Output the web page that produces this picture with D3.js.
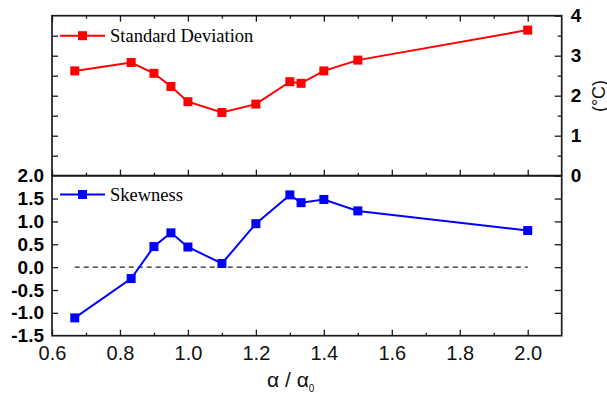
<!DOCTYPE html>
<html><head><meta charset="utf-8">
<script src="https://cdn.jsdelivr.net/npm/d3@7"></script>
<style>
body{margin:0;background:#fff;}
svg{display:block;}
</style></head>
<body>
<svg id="chart" width="607" height="395"></svg>
<script>
// ---- data ----
const alphaRatio = [0.667, 0.833, 0.9, 0.95, 1.0, 1.1, 1.2, 1.3, 1.333, 1.4, 1.5, 2.0];
const stdDev     = [2.62, 2.83, 2.56, 2.23, 1.85, 1.58, 1.79, 2.35, 2.31, 2.62, 2.89, 3.64];
const skewness   = [-1.11, -0.25, 0.45, 0.75, 0.44, 0.08, 0.95, 1.58, 1.41, 1.48, 1.23, 0.80];
const xMajorTicks = [0.6, 0.8, 1.0, 1.2, 1.4, 1.6, 1.8, 2.0];
const xMinorTicks = [0.7, 0.9, 1.1, 1.3, 1.5, 1.7, 1.9];
const sdTicks     = [0, 1, 2, 3, 4];
const sdMinor     = [0.5, 1.5, 2.5, 3.5];
const skTicks     = [-1.5, -1.0, -0.5, 0.0, 0.5, 1.0, 1.5, 2.0];
const seriesNames = ["Standard Deviation", "Skewness"];

// ---- layout ----
const L = 52, R = 561.7, T = 15.7, M = 175.7, B = 335.7;
const svg = d3.select("#chart");
const x = d3.scaleLinear().domain([0.6, 2.1]).range([L, R]);
const yTop = d3.scaleLinear().domain([0, 4]).range([M, T]);
const yBot = d3.scaleLinear().domain([-1.5, 2.0]).range([B, M]);
const sans = "'Liberation Sans', Arial, sans-serif";
const serif = "'Liberation Serif', 'Times New Roman', serif";
const axisColor = "#1a1a1a";

function styleAxis(g){
  g.select(".domain").remove();
  g.selectAll("line").attr("stroke", axisColor).attr("stroke-width", 1.3);
  g.selectAll("text").attr("fill", "#000").attr("font-family", sans);
}

function xTicksAt(yPos, isTop, labels){
  const mk = (vals, size) => {
    const ax = (isTop ? d3.axisTop(x) : d3.axisBottom(x)).tickValues(vals).tickSize(-size)
      .tickFormat(labels && size === 6 ? (d => d.toFixed(1)) : "").tickPadding(10);
    const g = svg.append("g").attr("transform", `translate(0,${yPos})`).call(ax);
    styleAxis(g);
    g.selectAll("text").attr("font-size", 20).attr("fill", "#111");
  };
  mk(xMajorTicks, 6);
  mk(xMinorTicks, 3);
}
xTicksAt(T, true, false);
xTicksAt(M, false, false);
xTicksAt(B, false, true);

// top panel left ticks (no labels)
{
  const g = svg.append("g").attr("transform", `translate(${L},0)`)
    .call(d3.axisLeft(yTop).tickValues([0.5,1,1.5,2,2.5,3,3.5]).tickSize(-6).tickFormat(""));
  styleAxis(g);
}
// top panel right axis
{
  const g = svg.append("g").attr("transform", `translate(${R},0)`)
    .call(d3.axisRight(yTop).tickValues(sdTicks).tickSize(-7).tickPadding(9).tickFormat(d3.format("d")));
  styleAxis(g);
  g.selectAll("text").attr("font-size", 19).attr("font-weight", "bold");
  const g2 = svg.append("g").attr("transform", `translate(${R},0)`)
    .call(d3.axisRight(yTop).tickValues(sdMinor).tickSize(-4).tickFormat(""));
  styleAxis(g2);
}
// bottom panel left axis
{
  const g = svg.append("g").attr("transform", `translate(${L},0)`)
    .call(d3.axisLeft(yBot).tickValues(skTicks).tickSize(-6).tickPadding(8).tickFormat(d => d.toFixed(1)));
  styleAxis(g);
  g.selectAll("text").attr("font-size", 19).attr("font-weight", "bold");
  g.selectAll(".tick").filter(d => d === 2.0 || d === -1.5).select("line").remove();
}
// bottom panel right ticks
{
  const g = svg.append("g").attr("transform", `translate(${R},0)`)
    .call(d3.axisRight(yBot).tickValues(skTicks.filter(v => v > -1.5 && v < 2)).tickSize(-7).tickFormat(""));
  styleAxis(g);
}

// frames
svg.append("rect").attr("x", L).attr("y", T).attr("width", R - L).attr("height", M - T)
  .attr("fill", "none").attr("stroke", axisColor).attr("stroke-width", 1.7);
svg.append("rect").attr("x", L).attr("y", M).attr("width", R - L).attr("height", B - M)
  .attr("fill", "none").attr("stroke", axisColor).attr("stroke-width", 1.7);

// zero reference line
svg.append("line")
  .attr("x1", x(alphaRatio[0])).attr("x2", x(alphaRatio[alphaRatio.length - 1]))
  .attr("y1", yBot(0)).attr("y2", yBot(0))
  .attr("stroke", "#222").attr("stroke-width", 1.3).attr("stroke-dasharray", "5,4");

// series
function drawSeries(vals, yScale, color){
  const data = alphaRatio.map((a, i) => [a, vals[i]]);
  svg.append("path").datum(data)
    .attr("fill", "none").attr("stroke", color).attr("stroke-width", 2)
    .attr("d", d3.line().x(d => x(d[0])).y(d => yScale(d[1])));
  svg.append("g").selectAll("rect").data(data).join("rect")
    .attr("x", d => x(d[0]) - 4.5).attr("y", d => yScale(d[1]) - 4.5)
    .attr("width", 9).attr("height", 9).attr("fill", color);
}
drawSeries(stdDev, yTop, "#ff0000");
drawSeries(skewness, yBot, "#0000ff");

// legends
function legend(yPos, color, label){
  svg.append("line").attr("x1", 60).attr("x2", 105).attr("y1", yPos).attr("y2", yPos)
    .attr("stroke", color).attr("stroke-width", 2);
  svg.append("rect").attr("x", 82.5 - 4.5).attr("y", yPos - 4.5).attr("width", 9).attr("height", 9).attr("fill", color);
  svg.append("text").attr("x", 110).attr("y", yPos + 6).attr("font-family", serif)
    .attr("font-size", 18.5).attr("fill", "#000").text(label);
}
legend(35.7, "#ff0000", seriesNames[0]);
legend(194.5, "#0000ff", seriesNames[1]);

// axis titles
const xt = svg.append("text").attr("x", 267).attr("y", 387).attr("font-family", sans)
  .attr("font-size", 21).attr("fill", "#111");
xt.append("tspan").text("α / α");
xt.append("tspan").attr("dy", 5).attr("font-size", 10).text("0");

svg.append("text").attr("transform", "translate(598.5,96) rotate(-90)")
  .attr("text-anchor", "middle").attr("dominant-baseline", "central")
  .attr("font-family", sans).attr("font-size", 18).attr("fill", "#111").text("(°C)");
</script>
</body></html>
